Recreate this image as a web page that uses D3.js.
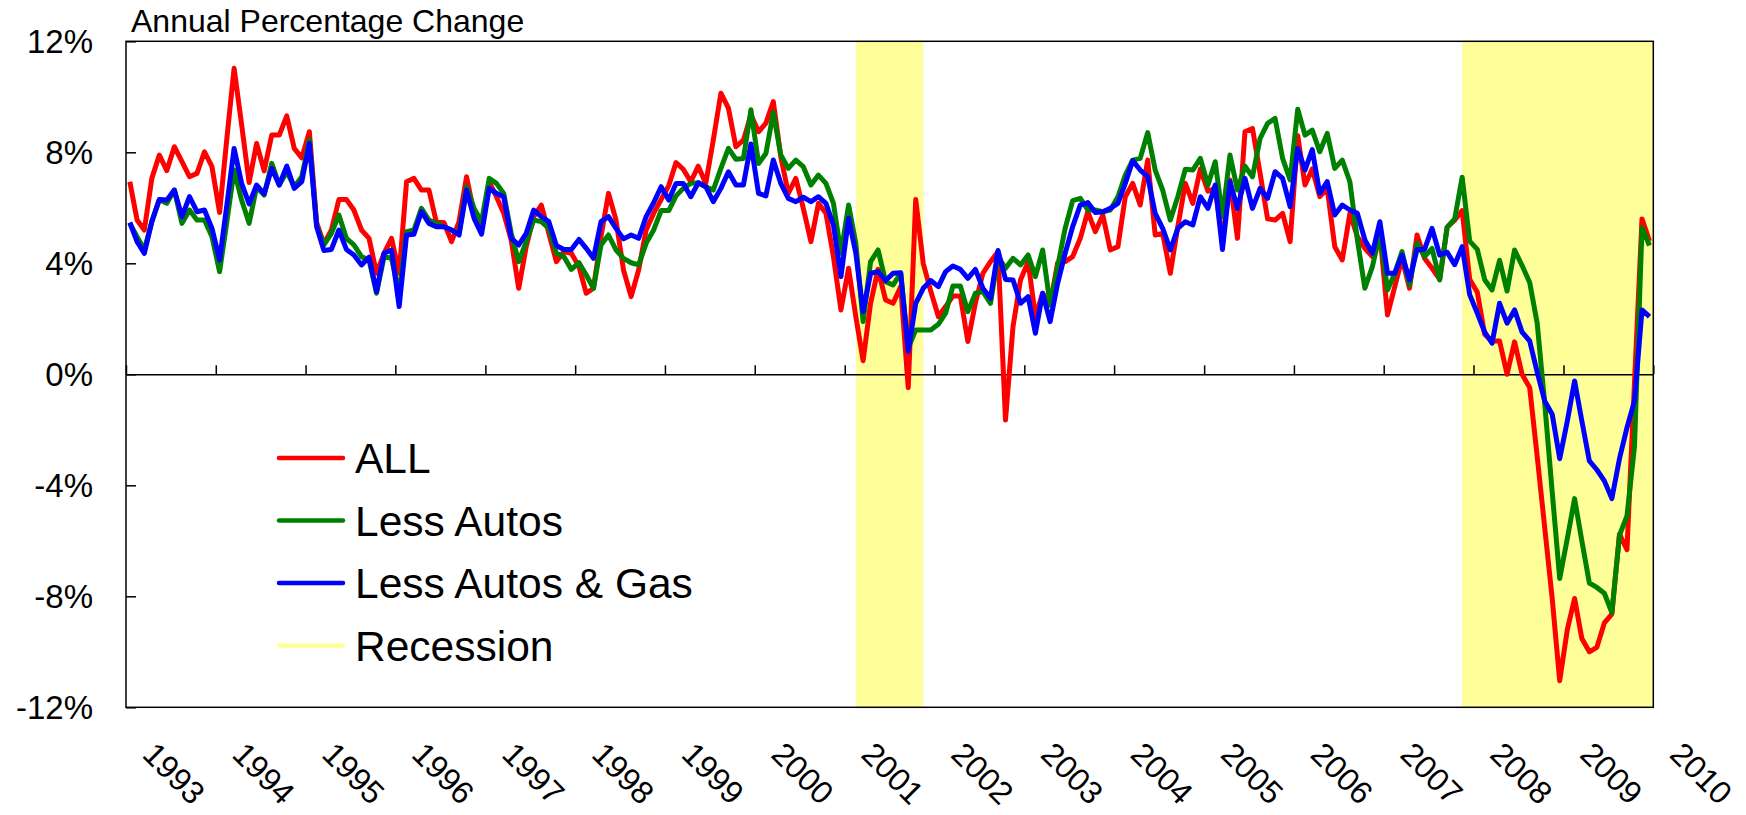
<!DOCTYPE html>
<html>
<head>
<meta charset="utf-8">
<script src="https://cdn.jsdelivr.net/npm/d3@7"></script>
<style>
  html, body { margin: 0; padding: 0; background: #fff; }
  svg { display: block; font-family: Arial, "Liberation Sans", sans-serif; }
</style>
</head>
<body>
<div id="chart"></div>
<script>
// Monthly data, Jan 1993 - Dec 2009 (annual % change)
const firstMonth = new Date(1993, 0, 1);
const monthCount = 204;

const allSales = [
  6.94, 5.56, 5.2, 7.06, 7.9, 7.34, 8.2, 7.66, 7.12, 7.24, 8.02, 7.48,      // 1993
  5.83, 8.5, 11.03, 9.0, 6.91, 8.32, 7.33, 8.62, 8.62, 9.31, 8.14, 7.8,     // 1994
  8.74, 5.47, 4.7, 5.2, 6.3, 6.3, 5.92, 5.2, 4.9, 3.64, 4.36, 4.9,          // 1995
  3.64, 6.94, 7.06, 6.64, 6.64, 5.47, 5.47, 4.78, 5.5, 7.12, 5.8, 5.32,     // 1996
  6.94, 6.4, 5.8, 4.84, 3.1, 4.6, 5.68, 6.1, 5.08, 4.06, 4.42, 4.36,        // 1997
  3.88, 2.92, 3.1, 4.96, 6.52, 5.56, 3.76, 2.8, 3.76, 5.2, 5.8, 6.3,        // 1998
  6.8, 7.63, 7.39, 6.94, 7.5, 6.88, 8.44, 10.13, 9.59, 8.2, 8.44, 9.35,     // 1999
  8.74, 9.05, 9.83, 7.84, 6.52, 7.06, 5.98, 4.78, 6.16, 5.8, 4.24, 2.32,    // 2000
  3.82, 2.08, 0.49, 2.56, 3.78, 2.68, 2.56, 3.16, -0.48, 6.3, 4.0, 3.0,     // 2001
  2.08, 2.44, 2.82, 2.82, 1.18, 2.56, 3.64, 4.06, 4.42, -1.65, 1.72, 3.4,   // 2002
  4.06, 2.08, 2.92, 2.5, 4.02, 4.06, 4.24, 4.9, 5.86, 5.14, 5.74, 4.48,     // 2003
  4.6, 6.4, 6.88, 6.1, 7.72, 5.02, 5.08, 3.64, 5.32, 6.88, 6.16, 7.4,       // 2004
  6.6, 6.7, 4.8, 7.0, 4.9, 8.74, 8.86, 7.24, 5.6, 5.56, 5.8, 4.78,          // 2005
  8.6, 6.82, 7.4, 6.4, 6.7, 4.6, 4.12, 5.8, 4.96, 4.54, 4.24, 5.08,         // 2006
  2.14, 3.16, 4.18, 3.1, 5.02, 4.18, 3.82, 3.42, 5.3, 5.55, 5.9, 3.42,      // 2007
  2.96, 1.44, 1.2, 1.2, 0.0, 1.17, 0.0, -0.48, -2.96, -5.52, -8.08, -11.04, // 2008
  -9.2, -8.08, -9.52, -10.0, -9.84, -8.96, -8.64, -5.76, -6.32, -0.3, 5.6, 4.8 // 2009
];

const lessAutos = [
  5.44, 4.96, 4.48, 5.5, 6.3, 6.16, 6.64, 5.44, 5.92, 5.56, 5.56, 4.96,
  3.7, 5.5, 7.36, 6.28, 5.44, 6.76, 6.46, 7.6, 6.82, 7.3, 6.76, 7.12,
  8.44, 5.38, 4.66, 5.08, 5.74, 4.9, 4.66, 4.24, 4.12, 2.92, 4.24, 4.18,
  2.9, 5.14, 5.2, 5.98, 5.56, 5.44, 5.32, 5.2, 5.08, 6.76, 5.98, 5.5,
  7.06, 6.88, 6.52, 5.08, 4.06, 4.78, 5.56, 5.5, 5.26, 4.36, 4.24, 3.78,
  4.02, 3.58, 3.1, 4.66, 5.02, 4.48, 4.18, 4.02, 3.94, 4.72, 5.2, 5.9,
  5.9, 6.43, 6.7, 6.88, 6.9, 6.76, 6.64, 7.42, 8.14, 7.75, 7.78, 9.53,
  7.6, 7.96, 9.43, 7.9, 7.42, 7.72, 7.48, 6.82, 7.18, 6.88, 6.16, 4.36,
  6.1, 4.72, 1.9, 4.06, 4.48, 3.34, 3.22, 3.64, 0.94, 1.6, 1.6, 1.6,
  1.8, 2.2, 3.18, 3.18, 2.26, 2.92, 2.98, 2.56, 4.24, 3.82, 4.18, 3.94,
  4.3, 3.52, 4.48, 2.5, 3.88, 5.26, 6.26, 6.34, 5.92, 5.92, 5.86, 5.92,
  6.4, 7.18, 7.72, 7.78, 8.71, 7.36, 6.64, 5.56, 6.4, 7.39, 7.36, 7.78,
  6.82, 7.66, 5.68, 7.9, 6.64, 7.5, 7.12, 8.5, 9.04, 9.22, 7.78, 7.0,
  9.55, 8.62, 8.8, 8.02, 8.68, 7.42, 7.72, 6.94, 4.84, 3.1, 3.88, 5.08,
  3.04, 3.64, 4.42, 3.22, 4.72, 4.24, 4.54, 3.4, 5.3, 5.6, 7.1, 4.8,
  4.5, 3.41, 3.04, 4.11, 3.0, 4.48, 3.92, 3.31, 1.84, -1.04, -4.24, -7.36,
  -5.92, -4.48, -6.0, -7.52, -7.68, -7.89, -8.59, -5.8, -5.1, -2.6, 5.28, 4.64
];

const lessAutosGas = [
  5.47, 4.78, 4.36, 5.5, 6.3, 6.28, 6.64, 5.68, 6.4, 5.86, 5.92, 5.26,
  4.12, 6.1, 8.14, 6.88, 6.14, 6.82, 6.5, 7.42, 6.82, 7.5, 6.7, 6.94,
  8.32, 5.32, 4.46, 4.5, 5.2, 4.5, 4.3, 3.94, 4.22, 2.98, 4.36, 4.48,
  2.44, 5.02, 5.05, 5.86, 5.44, 5.32, 5.32, 5.2, 5.02, 6.64, 5.62, 5.05,
  6.7, 6.52, 6.4, 4.9, 4.66, 5.08, 5.92, 5.68, 5.5, 4.64, 4.5, 4.5,
  4.86, 4.54, 4.18, 5.5, 5.68, 5.26, 4.88, 5.02, 4.9, 5.68, 6.18, 6.76,
  6.28, 6.88, 6.88, 6.4, 6.9, 6.76, 6.22, 6.7, 7.3, 6.82, 6.82, 8.3,
  6.52, 6.43, 7.72, 6.88, 6.34, 6.22, 6.38, 6.22, 6.4, 6.16, 5.38, 3.52,
  5.62, 4.36, 2.26, 3.64, 3.7, 3.38, 3.64, 3.66, 0.82, 2.56, 3.1, 3.38,
  3.16, 3.7, 3.9, 3.78, 3.46, 3.78, 3.1, 2.74, 4.46, 3.42, 3.4, 2.56,
  2.8, 1.48, 2.92, 1.9, 3.28, 4.36, 5.32, 6.1, 6.19, 5.83, 5.86, 5.98,
  6.16, 6.88, 7.7, 7.36, 7.12, 5.8, 5.26, 4.48, 5.26, 5.5, 5.38, 6.4,
  5.98, 6.82, 4.5, 6.94, 5.98, 7.06, 5.98, 6.7, 6.34, 7.3, 7.06, 6.04,
  8.14, 7.36, 8.1, 6.52, 6.94, 5.74, 6.1, 5.92, 5.8, 4.84, 4.36, 5.5,
  3.64, 3.64, 4.3, 3.4, 4.5, 4.5, 5.26, 4.3, 4.4, 3.95, 4.6, 2.87,
  2.2, 1.52, 1.12, 2.56, 1.84, 2.32, 1.52, 1.2, 0.08, -0.96, -1.44, -3.04,
  -1.68, -0.24, -1.68, -3.12, -3.44, -3.84, -4.48, -3.04, -1.92, -0.96, 2.32, 2.08
];

// Recession periods (first and last month)
const recessionStarts = ['2001-03', '2007-12'];
const recessionEnds = ['2001-11', '2010-01'];

const seriesNames = ['ALL', 'Less Autos', 'Less Autos & Gas'];
const seriesColors = ['#ff0000', '#008000', '#0000ff'];
const recessionColor = '#ffff99';

const yTickValues = [12, 8, 4, 0, -4, -8, -12];
const yearLabels = ['1993', '1994', '1995', '1996', '1997', '1998', '1999', '2000', '2001',
  '2002', '2003', '2004', '2005', '2006', '2007', '2008', '2009', '2010'];

// Layout
const W = 1746, H = 815;
const plot = { left: 126, right: 1653.3, top: 41.3, bottom: 707.3 };

const svg = d3.select('#chart').append('svg')
  .attr('width', W)
  .attr('height', H);

svg.append('rect').attr('width', W).attr('height', H).attr('fill', '#fff');

const x = d3.scaleTime()
  .domain([firstMonth, new Date(2010, 0, 1)])
  .range([plot.left, plot.right]);

const y = d3.scaleLinear()
  .domain([-12, 12])
  .range([plot.bottom, plot.top]);

const parseMonth = d3.timeParse('%Y-%m');
const midMonth = d => new Date((+d + +d3.timeMonth.offset(d, 1)) / 2);

const months = d3.range(monthCount).map(i => d3.timeMonth.offset(firstMonth, i));

// Recession bands
const bands = recessionStarts.map((s, i) => ({
  x0: x(midMonth(d3.timeMonth.offset(parseMonth(s), -1))),
  x1: Math.min(plot.right, x(midMonth(parseMonth(recessionEnds[i]))))
}));

svg.append('g').selectAll('rect')
  .data(bands)
  .enter().append('rect')
  .attr('x', d => d.x0)
  .attr('y', plot.top)
  .attr('width', d => d.x1 - d.x0)
  .attr('height', plot.bottom - plot.top)
  .attr('fill', recessionColor);

// Plot frame
svg.append('rect')
  .attr('x', plot.left)
  .attr('y', plot.top)
  .attr('width', plot.right - plot.left)
  .attr('height', plot.bottom - plot.top)
  .attr('fill', 'none')
  .attr('stroke', '#000')
  .attr('stroke-width', 1.5);

// Y axis (inside ticks)
const yAxis = d3.axisRight(y)
  .tickValues(yTickValues)
  .tickSize(10)
  .tickFormat('');

svg.append('g')
  .attr('transform', `translate(${plot.left},0)`)
  .call(yAxis)
  .call(g => g.select('.domain').remove())
  .call(g => g.selectAll('line').attr('stroke', '#000').attr('stroke-width', 1.5));

svg.append('g').selectAll('text')
  .data(yTickValues)
  .enter().append('text')
  .attr('x', 93)
  .attr('y', d => y(d))
  .attr('dy', '0.35em')
  .attr('text-anchor', 'end')
  .style('font-size', '33px')
  .style('fill', '#000')
  .text(d => d + '%');

// Zero line with year ticks
const xAxis = d3.axisTop(x)
  .ticks(d3.timeYear.every(1))
  .tickSizeInner(9)
  .tickSizeOuter(0)
  .tickFormat('');

svg.append('g')
  .attr('transform', `translate(0,${y(0)})`)
  .call(xAxis)
  .call(g => g.select('.domain').attr('stroke', '#000').attr('stroke-width', 1.5))
  .call(g => g.selectAll('line').attr('stroke', '#000').attr('stroke-width', 1.5));

// Year labels, rotated
svg.append('g').selectAll('text')
  .data(yearLabels)
  .enter().append('text')
  .attr('transform', d => `translate(${x(new Date(+d, 0, 1)) + 15},756) rotate(45)`)
  .style('font-size', '32px')
  .style('fill', '#000')
  .text(d => d);

// Title
svg.append('text')
  .attr('x', 131)
  .attr('y', 32)
  .style('font-size', '32px')
  .style('fill', '#000')
  .text('Annual Percentage Change');

// Lines
const line = d3.line()
  .x((d, i) => x(midMonth(months[i])))
  .y(d => y(d));

[allSales, lessAutos, lessAutosGas].forEach((values, k) => {
  svg.append('path')
    .datum(values)
    .attr('d', line)
    .attr('fill', 'none')
    .attr('stroke', seriesColors[k])
    .attr('stroke-width', 5)
    .attr('stroke-linejoin', 'round')
    .attr('stroke-linecap', 'butt');
});

// Legend
const legendItems = seriesNames.map((n, i) => ({ name: n, color: seriesColors[i] }))
  .concat([{ name: 'Recession', color: recessionColor }]);

const legend = svg.append('g').attr('transform', 'translate(279,458)');
const item = legend.selectAll('g')
  .data(legendItems)
  .enter().append('g')
  .attr('transform', (d, i) => `translate(0,${i * 62.5})`);

item.append('line')
  .attr('x1', 0).attr('x2', 64)
  .attr('stroke', d => d.color)
  .attr('stroke-width', 4.5)
  .attr('stroke-linecap', 'round');

item.append('text')
  .attr('x', 76)
  .attr('y', 15)
  .style('font-size', '42.5px')
  .style('fill', '#000')
  .text(d => d.name);
</script>
</body>
</html>
